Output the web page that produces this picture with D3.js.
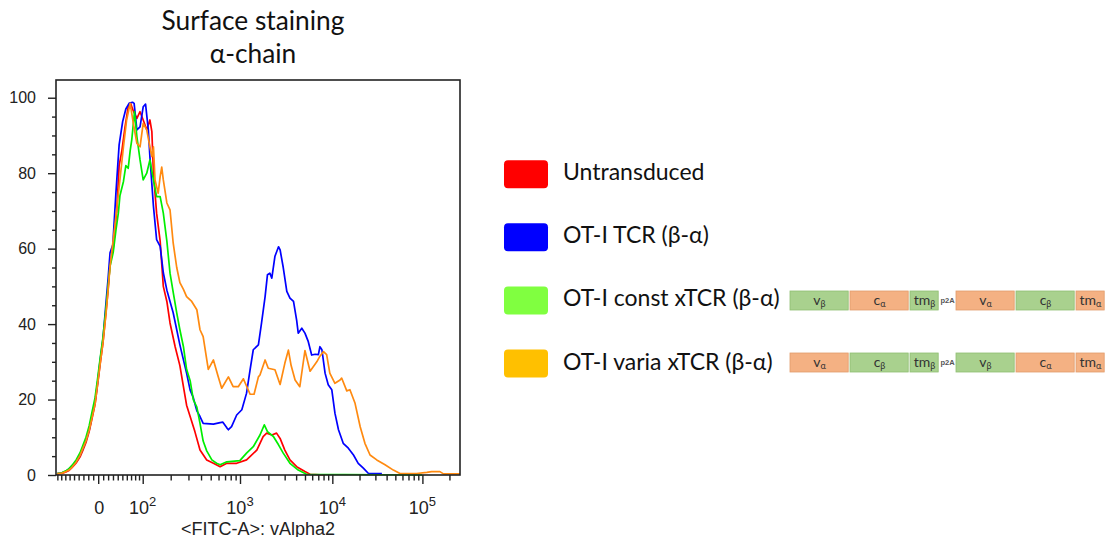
<!DOCTYPE html>
<html>
<head>
<meta charset="utf-8">
<script src="https://cdn.jsdelivr.net/npm/d3@7"></script>
<style>
  html, body { margin: 0; padding: 0; background: #fff; }
  svg { display: block; }
</style>
</head>
<body>
<svg id="chart" width="1105" height="537"></svg>
<script>
// ---- Histogram data: [display channel (0-1024 on the logicle axis), % of max] ----
const untransduced = [[3,0.3],[15,0.4],[25,0.8],[33,1.2],[41,2.0],[51,3.2],[61,4.8],[68,6.5],[76,8.6],[84,11.5],[91,14.8],[99,18.8],[106,24.5],[112,29.5],[119,35],[127,43.5],[132,49],[137,56],[145,60],[154,70],[160,82],[167,86],[175,92.3],[183,97.6],[189,98.5],[196,96.5],[205,94.5],[213,96.3],[221,94.1],[230,91.5],[238,94.1],[243,91],[247,80],[255,69.4],[264,62],[272,50],[281,46],[289,40.3],[302,34],[314,29],[322,24],[331,18.5],[340,15.5],[352,11.5],[365,6.6],[382,4],[399,3.1],[416,2.2],[433,3.1],[458,3.1],[483,4],[509,6.6],[525,10.2],[534,11.1],[547,10.6],[559,11.1],[568,9.7],[580,6.6],[593,4],[610,2.2],[631,0.9],[644,0.2],[682,0]];

const otiTcr = [[3,0.4],[15,0.6],[25,1.0],[33,1.6],[41,2.4],[51,3.6],[61,5.3],[68,7.0],[76,9.2],[84,12],[91,15.5],[99,19.5],[106,25],[112,30.5],[119,36],[127,46],[132,52],[137,58.9],[144,61],[152,75],[160,87.5],[169,93.7],[177,97],[186,98.6],[194,98.8],[198,98.5],[205,91.5],[213,92.3],[221,97.6],[227,98.3],[234,91.5],[238,84.4],[247,71.2],[255,62.4],[264,60.6],[272,53.6],[281,49],[289,46],[297,43],[314,34.5],[331,27],[340,22.5],[348,20.5],[357,17],[365,15.5],[373,13.7],[399,13.5],[416,13.9],[423,14],[433,12.5],[437,12],[445,12.8],[458,15.9],[471,17.3],[483,21.7],[492,27.9],[500,33.2],[513,34.5],[521,40.3],[530,47.3],[536,53.1],[542,53.5],[547,52.2],[555,58],[564,60.5],[568,59.7],[576,55],[585,48.7],[593,46.9],[602,46],[610,41],[614,37.6],[623,38.9],[631,37.6],[639,35.5],[648,31.8],[657,32],[665,31.9],[669,34],[674,33.2],[682,27],[690,23.9],[699,22.6],[707,16.4],[716,12],[728,8.4],[741,7.1],[754,5.3],[766,3.1],[779,1.8],[792,0.4],[826,0.4]];

const constXtcr = [[3,0.4],[15,0.6],[25,1.1],[33,1.7],[41,2.6],[51,4.0],[61,5.9],[68,7.8],[76,10],[84,13],[91,16.5],[99,20.5],[106,26],[112,31],[119,36.5],[127,44.5],[132,50],[137,55.3],[145,59],[152,65],[158,69.4],[162,74],[171,77.8],[177,82],[183,81.3],[188,86],[192,88.8],[199,96.3],[205,89.7],[213,83.5],[221,78.2],[230,80],[238,83.5],[247,78.2],[255,73.8],[264,73.8],[272,69.4],[281,62],[289,53.5],[297,48.5],[306,43],[314,38.5],[323,34],[331,28],[340,25],[348,20],[357,18],[365,13.7],[373,9],[382,6.4],[395,4],[407,3.1],[416,2.7],[433,3.5],[466,3.8],[483,5.8],[500,7.5],[517,10.6],[528,13.3],[536,11.5],[551,10.2],[564,8],[576,5.8],[593,3.1],[614,1.3],[635,0.2],[928,0]];

const variaXtcr = [[3,0.4],[15,0.5],[25,0.9],[33,1.3],[41,2.1],[51,3.4],[61,5.2],[68,7],[76,9],[84,11.8],[91,15],[99,18.8],[106,24.5],[112,29.5],[119,35],[127,43],[132,49],[137,55.3],[149,65.9],[162,78.2],[171,87],[179,94.1],[188,98.5],[196,93.2],[205,87.9],[213,87],[221,93.2],[230,91.5],[238,87],[243,84.4],[247,87],[251,78.2],[259,74.7],[264,79.1],[268,81.6],[272,78.2],[281,72.1],[289,70.3],[297,61.5],[306,55],[314,51],[323,49.2],[331,47.3],[344,46],[357,43.8],[365,38.5],[373,36.7],[386,28],[399,30.5],[411,26.1],[420,23],[437,26],[449,23.4],[462,23.4],[475,25.5],[492,21.4],[502,21.4],[513,26],[517,26.5],[530,30.5],[538,28.3],[555,27.9],[568,24],[580,29.6],[589,33.1],[596,29],[606,25.2],[618,23.4],[631,33],[644,27.5],[661,30],[669,31.5],[678,32.7],[686,31.9],[694,27],[707,24.3],[720,25.2],[724,25.7],[737,22.3],[745,22.6],[758,19],[771,12.8],[783,8.4],[796,5.3],[813,4],[834,2.7],[855,1.3],[872,0.4],[914,0.4],[940,0.7],[952,0.9],[973,0.9],[982,0.3],[1024,0.3]];

// ---- Legend / series names ----
const seriesNames = ["Untransduced", "OT-I TCR (\u03b2-\u03b1)", "OT-I const xTCR (\u03b2-\u03b1)", "OT-I varia xTCR (\u03b2-\u03b1)"];
const seriesData = [untransduced, otiTcr, constXtcr, variaXtcr];
const lineColors = ["#ff0000", "#0000ff", "#00ee00", "#ff8a10"];
const swatchColors = ["#ff0000", "#0000ff", "#80ff40", "#ffc000"];
const drawOrder = [0, 1, 2, 3];

// ---- Axis ticks ----
const fitcMajor = [0, 1e2, 1e3, 1e4, 1e5];
const fitcMajorExp = ["", "2", "3", "4", "5"];
const fitcMinor = [-90, -80, -70, -60, -50, -40, -30, -20, -10,
  10, 20, 30, 40, 50, 60, 70, 80, 90,
  200, 300, 400, 500, 600, 700, 800, 900,
  2000, 3000, 4000, 5000, 6000, 7000, 8000, 9000,
  20000, 30000, 40000, 50000, 60000, 70000, 80000, 90000, 200000];
const yMajor = [0, 20, 40, 60, 80, 100];
const yMinor = [5, 10, 15, 25, 30, 35, 45, 50, 55, 65, 70, 75, 85, 90, 95];

// ---- Construct diagrams (segment name, subscript) ----
const constConstruct = [["v","\u03b2"],["c","\u03b1"],["tm","\u03b2"],["p2A",""],["v","\u03b1"],["c","\u03b2"],["tm","\u03b1"]];
const variaConstruct = [["v","\u03b1"],["c","\u03b2"],["tm","\u03b2"],["p2A",""],["v","\u03b2"],["c","\u03b1"],["tm","\u03b1"]];
const segmentLength = { v: 60, c: 60, tm: 30, p2A: 16 };

// Logicle transform (Parks et al.), returns display position 0..1 for a data value
function makeLogicle(T, W, M, A) {
  const w = W / (M + A), x2 = A / (M + A), x1 = x2 + w, x0 = x2 + 2 * w;
  const b = (M + A) * Math.LN10;
  let lo = 1e-9, hi = b;
  for (let i = 0; i < 100; i++) {
    const mid = (lo + hi) / 2;
    const f = 2 * (Math.log(mid) - Math.log(b)) + w * (b + mid);
    if (f < 0) lo = mid; else hi = mid;
  }
  const d = (lo + hi) / 2;
  const ca = Math.exp(x0 * (b + d));
  const mfa = Math.exp(b * x1) - ca / Math.exp(d * x1);
  const a = T / (Math.exp(b) - mfa - ca / Math.exp(d));
  const c = ca * a, f = -mfa * a;
  const S = y => {
    if (y >= x1) return a * Math.exp(b * y) - c * Math.exp(-d * y) + f;
    const r = 2 * x1 - y;
    return -(a * Math.exp(b * r) - c * Math.exp(-d * r) + f);
  };
  return v => {
    let l = -1, h = 2;
    for (let i = 0; i < 80; i++) {
      const m = (l + h) / 2;
      if (S(m) < v) l = m; else h = m;
    }
    return (l + h) / 2;
  };
}

const logicle = makeLogicle(262144, 0.47, 4.5, 0);
const toChannel = v => logicle(v) * 1024;

const svg = d3.select("#chart");
svg.append("rect").attr("width", 1105).attr("height", 537).attr("fill", "#fff");

const plot = { left: 56, right: 460, top: 80, bottom: 475 };
const x = d3.scaleLinear().domain([0, 1024]).range([plot.left, plot.right]);
const y = d3.scaleLinear().domain([0, 104.7]).range([plot.bottom, plot.top]);

const axisFont = "'Liberation Sans', Arial, sans-serif";
const textFont = "Lato, 'Open Sans', sans-serif";

// Title
const title = svg.append("text")
  .attr("x", 253).attr("text-anchor", "middle")
  .attr("font-family", textFont).attr("font-size", 26.3).attr("fill", "#111");
title.append("tspan").attr("x", 253).attr("y", 30).text("Surface staining");
title.append("tspan").attr("x", 253).attr("y", 63).text("\u03b1-chain");

// Curves
const line = d3.line().x(d => x(d[0])).y(d => y(d[1]));
const curves = svg.append("g");
drawOrder.forEach(i => {
  curves.append("path")
    .datum(seriesData[i])
    .attr("d", line)
    .attr("fill", "none")
    .attr("stroke", lineColors[i])
    .attr("stroke-width", 1.7)
    .attr("stroke-linejoin", "round");
});

// Frame
svg.append("rect")
  .attr("x", plot.left).attr("y", plot.top)
  .attr("width", plot.right - plot.left).attr("height", plot.bottom - plot.top)
  .attr("fill", "none").attr("stroke", "#222").attr("stroke-width", 1.6);

// Y axis
const yAxisMajor = svg.append("g").attr("transform", `translate(${plot.left},0)`)
  .call(d3.axisLeft(y).tickValues(yMajor).tickSize(8).tickPadding(12).tickFormat(d3.format("d")));
const yAxisMinor = svg.append("g").attr("transform", `translate(${plot.left},0)`)
  .call(d3.axisLeft(y).tickValues(yMinor).tickSize(4).tickFormat(""));
[yAxisMajor, yAxisMinor].forEach(g => {
  g.select(".domain").remove();
  g.selectAll("line").attr("stroke", "#222").attr("stroke-width", 1.4);
});
yAxisMajor.selectAll("text")
  .attr("font-family", axisFont).attr("font-size", 16).attr("fill", "#222");

// X axis (logicle)
const xAxisMajor = svg.append("g").attr("transform", `translate(0,${plot.bottom})`)
  .call(d3.axisBottom(x).tickValues(fitcMajor.map(toChannel)).tickSize(9).tickFormat(""));
const xAxisMinor = svg.append("g").attr("transform", `translate(0,${plot.bottom})`)
  .call(d3.axisBottom(x).tickValues(fitcMinor.map(toChannel)).tickSize(5.5).tickFormat(""));
[xAxisMajor, xAxisMinor].forEach(g => {
  g.select(".domain").remove();
  g.selectAll("line").attr("stroke", "#222").attr("stroke-width", 1.4);
});

const xLabels = svg.append("g")
  .attr("font-family", axisFont).attr("fill", "#222");
fitcMajor.forEach((v, i) => {
  const t = xLabels.append("text")
    .attr("x", x(toChannel(v)) + (fitcMajorExp[i] ? 0 : 1))
    .attr("y", 513.5)
    .attr("text-anchor", "middle")
    .attr("font-size", 18);
  if (fitcMajorExp[i]) {
    t.append("tspan").text("10");
    t.append("tspan").attr("font-size", 13).attr("dy", -8).text(fitcMajorExp[i]);
  } else {
    t.text(String(v));
  }
});

svg.append("text")
  .attr("x", (plot.left + plot.right) / 2).attr("y", 534.5)
  .attr("text-anchor", "middle")
  .attr("font-family", axisFont).attr("font-size", 18).attr("fill", "#222")
  .text("<FITC-A>: vAlpha2");

// Legend
const legendY = d3.scalePoint().domain(seriesNames).range([174.2, 363.5]);
const legend = svg.append("g");
seriesNames.forEach((name, i) => {
  const cy = legendY(name);
  legend.append("rect")
    .attr("x", 504).attr("y", cy - 14).attr("width", 44).attr("height", 28)
    .attr("rx", 4).attr("fill", swatchColors[i]);
  legend.append("text")
    .attr("x", 563).attr("y", cy + 6)
    .attr("font-family", textFont).attr("font-size", 23).attr("fill", "#111")
    .text(name);
});

// Construct diagrams next to the xTCR legend entries
const alphaFill = "#f4b183", betaFill = "#a9d18e";
const alphaStroke = "#e29c6c", betaStroke = "#8fbf72";
function drawConstruct(segments, cy) {
  const g = svg.append("g");
  const lengths = segments.map(s => segmentLength[s[0]]);
  const starts = d3.cumsum([0].concat(lengths.slice(0, -1)));
  const total = d3.sum(lengths);
  const sx = d3.scaleLinear().domain([0, total]).range([789.5, 789.5 + total]);
  segments.forEach((s, i) => {
    const x0 = sx(starts[i]), x1 = sx(starts[i] + lengths[i]);
    if (s[0] === "p2A") {
      g.append("text")
        .attr("x", (x0 + x1) / 2).attr("y", cy + 2.6)
        .attr("text-anchor", "middle")
        .attr("font-family", axisFont).attr("font-size", 7.5).attr("font-weight", "bold")
        .attr("fill", "#555").text("p2A");
      return;
    }
    const isAlpha = s[1] === "\u03b1";
    g.append("rect")
      .attr("x", x0 + 0.5).attr("y", cy - 9.5)
      .attr("width", x1 - x0 - 1.8).attr("height", 19)
      .attr("fill", isAlpha ? alphaFill : betaFill)
      .attr("stroke", isAlpha ? alphaStroke : betaStroke)
      .attr("stroke-width", 0.8);
    const t = g.append("text")
      .attr("x", (x0 + x1) / 2).attr("y", cy + 4)
      .attr("text-anchor", "middle")
      .attr("font-family", textFont).attr("font-size", 14).attr("fill", "#333");
    t.append("tspan").text(s[0]);
    t.append("tspan").attr("font-size", 9).attr("dy", 2.5).text(s[1]);
  });
}
drawConstruct(constConstruct, 300.5);
drawConstruct(variaConstruct, 362.5);
</script>
</body>
</html>
